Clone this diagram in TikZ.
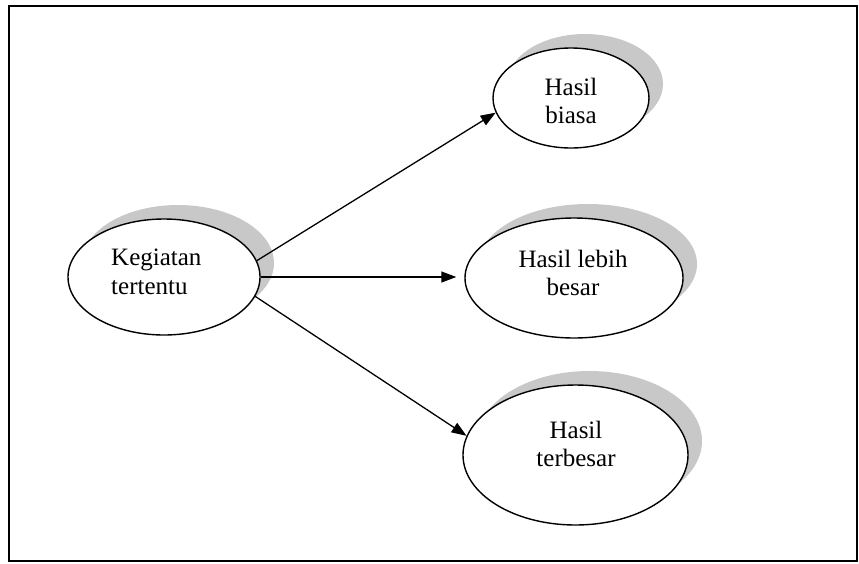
\documentclass[tikz,border=0pt]{standalone}
\usepackage{fontspec}
\setmainfont{Liberation Serif}
\usetikzlibrary{shapes.geometric,shadows,arrows.meta,calc}
\definecolor{shadowgray}{RGB}{200,200,200}
\begin{document}
\begin{tikzpicture}[x=1pt,y=-1pt,
  bubble/.style={ellipse, draw=black, line width=1.4pt, fill=white, inner sep=0pt,
    drop shadow={shadow xshift=14pt, shadow yshift=14pt, fill=shadowgray, opacity=1, draw=none}},
  caption/.style={font=\fontsize{25}{28.5}\selectfont, inner sep=0pt},
  link/.style={line width=1.3pt, -{Triangle[length=15pt,width=11pt]}}]
\useasboundingbox (0,0) rectangle (859,563);
% outer frame
\draw[line width=1.6pt] (9,6) rectangle (857,561);

% ellipses
\node[bubble, minimum width=192pt, minimum height=116pt] (keg) at (164,277) {};
\node[bubble, minimum width=156pt, minimum height=100pt] (biasa) at (571,98) {};
\node[bubble, minimum width=218pt, minimum height=120pt] (lebih) at (574,278) {};
\node[bubble, minimum width=225pt, minimum height=140pt] (besar) at (575.5,455) {};

% labels
\node[caption, align=left, anchor=west] (kegtxt) at (111,272) {Kegiatan\\tertentu};
\node[caption, align=center] (biasatxt) at (571,101) {Hasil\\biasa};
\node[caption, align=center] (lebihtxt) at (573,273) {Hasil lebih\\besar};
\node[caption, align=center] (besartxt) at (576,444) {Hasil\\terbesar};

% arrows
\draw[link] (keg.10) -- (biasa.191);
\draw[link] (keg.east) -- ([xshift=-8pt]lebih.west |- keg.east);
\draw[link] (keg.-12) -- (besar.170);
\end{tikzpicture}
\end{document}
